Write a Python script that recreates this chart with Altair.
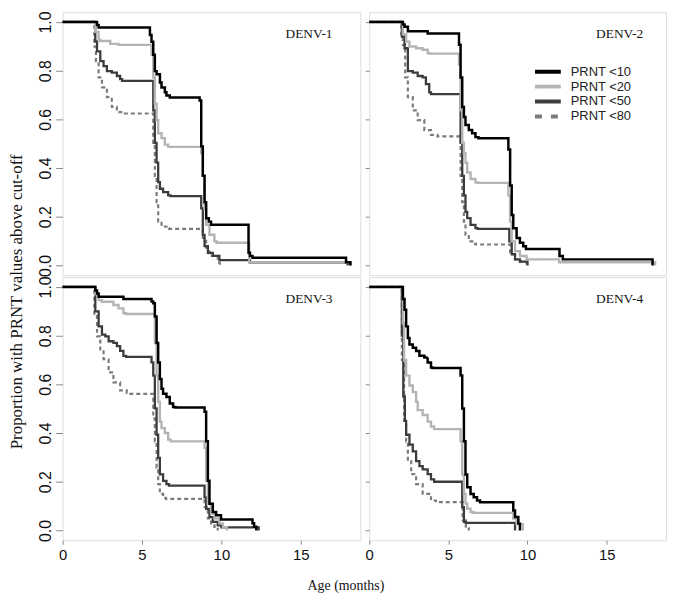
import altair as alt
import pandas as pd

series = ["PRNT <10", "PRNT <20", "PRNT <50", "PRNT <80"]
panels = ["DENV-1", "DENV-2", "DENV-3", "DENV-4"]
y_ticks = [0.0, 0.2, 0.4, 0.6, 0.8, 1.0]
x_ticks = [0, 5, 10, 15]

# ---------------- DENV-1 ----------------
d1_10_x = [0, 2.17, 2.27, 5.5, 5.6, 5.71, 5.81, 5.92, 6.13, 6.23, 6.44, 6.54, 6.75, 8.63, 8.73, 8.83, 8.94, 9.04, 9.21, 9.35, 11.71, 11.8, 11.96, 17.85, 18.12]
d1_10_y = [1.0, 0.987, 0.977, 0.946, 0.919, 0.865, 0.798, 0.785, 0.751, 0.731, 0.711, 0.698, 0.69, 0.677, 0.489, 0.368, 0.26, 0.194, 0.18, 0.167, 0.052, 0.039, 0.032, 0.013, 0.0]
d1_20_x = [0, 2.06, 2.27, 2.375, 3.0, 3.52, 5.6, 5.71, 5.81, 5.92, 6.02, 6.23, 6.44, 6.65, 8.73, 8.83, 8.94, 9.04, 9.25, 9.56, 9.7, 11.75, 18.15]
d1_20_y = [1.0, 0.959, 0.926, 0.922, 0.91, 0.906, 0.865, 0.772, 0.664, 0.597, 0.543, 0.523, 0.496, 0.487, 0.462, 0.368, 0.234, 0.167, 0.126, 0.099, 0.093, 0.012, 0.0]
d1_50_x = [0, 2.06, 2.17, 2.375, 2.58, 2.79, 3.1, 3.42, 3.625, 3.75, 5.71, 5.81, 5.92, 6.02, 6.13, 6.33, 6.65, 6.8, 8.73, 8.83, 8.94, 9.15, 9.46, 9.875, 11.8, 17.95]
d1_50_y = [1.0, 0.92, 0.879, 0.839, 0.819, 0.798, 0.792, 0.778, 0.765, 0.758, 0.637, 0.503, 0.422, 0.342, 0.315, 0.301, 0.288, 0.285, 0.234, 0.126, 0.079, 0.052, 0.039, 0.022, 0.012, 0.0]
d1_80_x = [0, 2.0, 2.1, 2.27, 2.48, 2.79, 3.1, 3.42, 3.83, 5.71, 5.81, 5.92, 6.02, 6.23, 6.54, 6.7, 8.83, 9.04, 9.25, 9.77, 9.9]
d1_80_y = [1.0, 0.9, 0.839, 0.772, 0.731, 0.691, 0.651, 0.63, 0.624, 0.503, 0.368, 0.26, 0.18, 0.16, 0.153, 0.15, 0.113, 0.073, 0.039, 0.012, 0.0]

# ---------------- DENV-2 ----------------
d2_10_x = [0, 2.125, 2.23, 2.44, 3.69, 5.67, 5.77, 5.875, 5.98, 6.08, 6.29, 6.5, 6.71, 6.9, 8.79, 8.9, 9.0, 9.1, 9.31, 9.52, 9.73, 9.9, 12.02, 12.23, 17.9]
d2_10_y = [1.0, 0.99, 0.98, 0.962, 0.953, 0.906, 0.772, 0.651, 0.61, 0.577, 0.556, 0.543, 0.527, 0.522, 0.476, 0.328, 0.207, 0.153, 0.113, 0.093, 0.079, 0.068, 0.039, 0.025, 0.0]
d2_20_x = [0, 2.125, 2.33, 2.54, 2.96, 3.375, 3.69, 3.8, 5.67, 5.77, 5.875, 5.98, 6.08, 6.19, 6.4, 6.71, 6.85, 8.79, 8.9, 9.0, 9.21, 9.52, 9.94, 12.0, 18.06]
d2_20_y = [1.0, 0.95, 0.919, 0.899, 0.892, 0.886, 0.872, 0.87, 0.825, 0.637, 0.503, 0.462, 0.422, 0.382, 0.355, 0.341, 0.339, 0.288, 0.18, 0.099, 0.059, 0.039, 0.025, 0.013, 0.0]
d2_50_x = [0, 2.06, 2.23, 2.44, 2.75, 3.06, 3.375, 3.58, 3.79, 3.9, 5.77, 5.875, 5.98, 6.08, 6.19, 6.4, 6.71, 6.85, 8.85, 9.0, 9.21, 9.52, 10.0]
d2_50_y = [1.0, 0.94, 0.892, 0.798, 0.792, 0.778, 0.772, 0.745, 0.711, 0.704, 0.503, 0.368, 0.288, 0.22, 0.194, 0.167, 0.153, 0.15, 0.099, 0.046, 0.025, 0.016, 0.0]
d2_80_x = [0, 2.02, 2.125, 2.27, 2.44, 2.75, 3.06, 3.48, 3.9, 4.31, 5.77, 5.875, 5.98, 6.08, 6.29, 6.6, 6.75, 8.9, 9.21, 9.52, 9.94]
d2_80_y = [1.0, 0.95, 0.906, 0.772, 0.691, 0.637, 0.597, 0.556, 0.536, 0.53, 0.368, 0.26, 0.18, 0.126, 0.099, 0.089, 0.086, 0.046, 0.025, 0.016, 0.0]

# ---------------- DENV-3 ----------------
d3_10_x = [0, 2.06, 2.17, 2.27, 3.83, 5.6, 5.71, 5.81, 5.92, 6.02, 6.125, 6.23, 6.33, 6.54, 6.75, 6.96, 7.1, 8.94, 9.04, 9.15, 9.25, 9.46, 9.67, 9.98, 11.96, 12.06, 12.2]
d3_10_y = [1.0, 0.985, 0.973, 0.96, 0.95, 0.94, 0.933, 0.879, 0.77, 0.69, 0.622, 0.582, 0.561, 0.548, 0.521, 0.507, 0.505, 0.487, 0.366, 0.204, 0.11, 0.076, 0.062, 0.045, 0.03, 0.015, 0.0]
d3_20_x = [0, 2.06, 2.27, 2.48, 3.2, 3.52, 3.83, 4.0, 5.81, 5.92, 6.02, 6.125, 6.23, 6.44, 6.65, 6.8, 8.94, 9.04, 9.15, 9.35, 9.56, 9.875, 10.1, 10.35]
d3_20_y = [1.0, 0.97, 0.946, 0.939, 0.926, 0.912, 0.892, 0.889, 0.77, 0.636, 0.528, 0.447, 0.42, 0.4, 0.373, 0.366, 0.339, 0.204, 0.11, 0.069, 0.049, 0.029, 0.013, 0.0]
d3_50_x = [0, 2.06, 2.27, 2.48, 2.69, 2.9, 3.2, 3.42, 3.625, 3.83, 4.0, 5.6, 5.71, 5.81, 5.92, 6.02, 6.125, 6.33, 6.54, 6.7, 8.94, 9.04, 9.25, 9.46, 9.77, 10.0, 12.35]
d3_50_y = [1.0, 0.9, 0.838, 0.804, 0.797, 0.777, 0.77, 0.757, 0.737, 0.717, 0.713, 0.69, 0.636, 0.501, 0.393, 0.298, 0.23, 0.204, 0.19, 0.184, 0.136, 0.089, 0.055, 0.035, 0.021, 0.013, 0.0]
d3_80_x = [0, 2.0, 2.17, 2.375, 2.58, 2.9, 3.2, 3.625, 4.04, 4.2, 5.71, 5.81, 5.92, 6.02, 6.125, 6.33, 6.5, 8.94, 9.15, 9.35, 9.56, 9.77]
d3_80_y = [1.0, 0.88, 0.797, 0.743, 0.703, 0.649, 0.608, 0.575, 0.565, 0.561, 0.46, 0.366, 0.258, 0.19, 0.15, 0.134, 0.13, 0.096, 0.049, 0.029, 0.015, 0.0]

# ---------------- DENV-4 ----------------
d4_10_x = [0, 2.125, 2.23, 2.33, 2.44, 2.54, 2.75, 2.96, 3.17, 3.48, 3.69, 3.9, 4.0, 5.77, 5.875, 5.98, 6.08, 6.19, 6.4, 6.6, 6.81, 7.0, 9.1, 9.21, 9.42, 9.52]
d4_10_y = [1.0, 0.95, 0.906, 0.838, 0.79, 0.764, 0.75, 0.737, 0.717, 0.71, 0.69, 0.669, 0.667, 0.636, 0.501, 0.366, 0.23, 0.177, 0.15, 0.136, 0.123, 0.116, 0.082, 0.055, 0.028, 0.0]
d4_20_x = [0, 2.125, 2.2, 2.33, 2.54, 2.75, 2.96, 3.06, 3.375, 3.69, 3.9, 4.1, 5.77, 5.875, 5.98, 6.08, 6.19, 6.4, 6.6, 9.1, 9.31, 9.7]
d4_20_y = [1.0, 0.85, 0.7, 0.636, 0.595, 0.568, 0.528, 0.494, 0.474, 0.447, 0.427, 0.416, 0.366, 0.23, 0.15, 0.11, 0.089, 0.076, 0.072, 0.049, 0.026, 0.0]
d4_50_x = [0, 2.06, 2.15, 2.25, 2.33, 2.54, 2.75, 2.96, 3.17, 3.375, 3.69, 3.9, 4.1, 5.875, 5.98, 6.1, 9.21]
d4_50_y = [1.0, 0.8, 0.55, 0.45, 0.393, 0.352, 0.325, 0.285, 0.264, 0.251, 0.231, 0.21, 0.2, 0.096, 0.035, 0.031, 0.0]
d4_80_x = [0, 2.06, 2.2, 2.33, 2.44, 2.65, 2.96, 3.375, 3.9, 4.21, 5.9, 6.1, 6.29]
d4_80_y = [1.0, 0.7, 0.45, 0.366, 0.285, 0.231, 0.19, 0.15, 0.123, 0.116, 0.042, 0.01, 0.0]

curves = {
    "DENV-1": [(d1_10_x, d1_10_y), (d1_20_x, d1_20_y), (d1_50_x, d1_50_y), (d1_80_x, d1_80_y)],
    "DENV-2": [(d2_10_x, d2_10_y), (d2_20_x, d2_20_y), (d2_50_x, d2_50_y), (d2_80_x, d2_80_y)],
    "DENV-3": [(d3_10_x, d3_10_y), (d3_20_x, d3_20_y), (d3_50_x, d3_50_y), (d3_80_x, d3_80_y)],
    "DENV-4": [(d4_10_x, d4_10_y), (d4_20_x, d4_20_y), (d4_50_x, d4_50_y), (d4_80_x, d4_80_y)],
}

rows = []
for p in panels:
    for s, (xs, ys) in zip(series, curves[p]):
        for i, (xv, yv) in enumerate(zip(xs, ys)):
            rows.append({"panel": p, "series": s, "month": xv, "prop": yv, "i": i})
df = pd.DataFrame(rows)

COLORS = ["#000000", "#b4b4b4", "#3c3c3c", "#7c7c7c"]
DASHES = [[1, 0], [1, 0], [1, 0], [4, 3]]
LEG_DASHES = [[1, 0], [1, 0], [1, 0], [7, 9]]
WIDTHS = [2.5, 2.2, 2.2, 2.2]
FRAME = "#8a8a8a"
H = 265
SANS = "Liberation Sans"
SERIF = "Liberation Serif"

x_scale = alt.Scale(domain=[0, 18.75], nice=False, zero=False)
y_scale = alt.Scale(domain=[-0.04, 1.04], nice=False, zero=False)
color_scale = alt.Scale(domain=series, range=COLORS)


def make_panel(name, left, bottom, legend):
    d = df[df["panel"] == name]
    width = 300 if left else 299
    if left:
        yaxis = alt.Axis(values=y_ticks, format=".1f", labelAngle=270, labelAlign="center",
                         labelBaseline="bottom", labelFont=SANS, labelFontSize=16,
                         labelColor="#111111", tickSize=7, tickColor=FRAME, labelPadding=2,
                         domain=False, grid=False, title=None, labelOverlap=False,
                         labelFlush=False, labelBound=False)
    else:
        yaxis = alt.Axis(values=y_ticks, labels=False, tickSize=4, tickColor=FRAME,
                         domain=False, grid=False, title=None)
    if bottom:
        if left:
            extra = dict(title="Age (months)", titleX=285, titleY=50, titleFont=SERIF,
                         titleFontSize=14, titleFontWeight="normal", titleColor="#111111",
                         titleBaseline="alphabetic", titleAlign="center")
        else:
            extra = dict(title=None)
        xaxis = alt.Axis(values=x_ticks, labelFont=SANS, labelFontSize=15, labelColor="#111111",
                         tickSize=4, tickColor=FRAME, labelPadding=3, domain=False, grid=False,
                         labelFlush=False, labelOverlap=False, **extra)
    else:
        xaxis = None
    base = alt.Chart(d).mark_line(interpolate="step-after", strokeCap="butt").encode(
        x=alt.X("month:Q", scale=x_scale, axis=xaxis),
        y=alt.Y("prop:Q", scale=y_scale, axis=yaxis),
        color=alt.Color("series:N", scale=color_scale, legend=None),
        strokeDash=alt.StrokeDash("series:N", scale=alt.Scale(domain=series, range=DASHES), legend=None),
        strokeWidth=alt.StrokeWidth("series:N", scale=alt.Scale(domain=series, range=WIDTHS), legend=None),
        order="i:Q",
    )
    layers = [base.transform_filter(alt.datum.series == s) for s in reversed(series)]
    label = alt.Chart(pd.DataFrame({"panel": [name]})).mark_text(
        font=SERIF, fontSize=13.5, align="right", baseline="middle", color="#111111"
    ).encode(text="panel:N", x=alt.value(width - 28 if left else width - 23), y=alt.value(22))
    main = alt.layer(*layers, label)
    if legend:
        leg_df = pd.DataFrame({"series": series})
        leg_y = alt.Y("series:N", scale=alt.Scale(type="point", domain=series, range=[60, 105], padding=0),
                      axis=None)
        rules = alt.Chart(leg_df).mark_rule(strokeWidth=4, strokeCap="butt").encode(
            y=leg_y, x=alt.value(167), x2=alt.value(193),
            color=alt.Color("series:N", scale=color_scale, legend=None),
            strokeDash=alt.StrokeDash("series:N", scale=alt.Scale(domain=series, range=LEG_DASHES), legend=None),
        )
        texts = alt.Chart(leg_df).mark_text(
            font=SANS, fontSize=13, align="left", baseline="middle", color="#222222"
        ).encode(y=leg_y, x=alt.value(203), text="series:N")
        main = alt.layer(main, alt.layer(rules, texts)).resolve_scale(y="independent", strokeDash="independent")
    return main.properties(width=width, height=H)


p1 = make_panel("DENV-1", True, False, False)
p2 = make_panel("DENV-2", False, False, True)
p3 = make_panel("DENV-3", True, True, False)
p4 = make_panel("DENV-4", False, True, False)

chart = alt.concat(
    p1, p2, p3, p4, columns=2, spacing=alt.RowColnumber(row=2, column=9), bounds="flush"
).properties(
    title=alt.TitleParams("Proportion with PRNT values above cut-off", orient="left",
                          anchor="middle", font=SERIF, fontSize=17, fontWeight="normal",
                          color="#111111", offset=11),
    padding={"left": 0, "top": 0, "right": 0, "bottom": 0},
).configure_view(stroke=FRAME, strokeWidth=1.5).configure(background="white")

chart.save("out.html", embed_options={"renderer": "svg", "actions": False})
